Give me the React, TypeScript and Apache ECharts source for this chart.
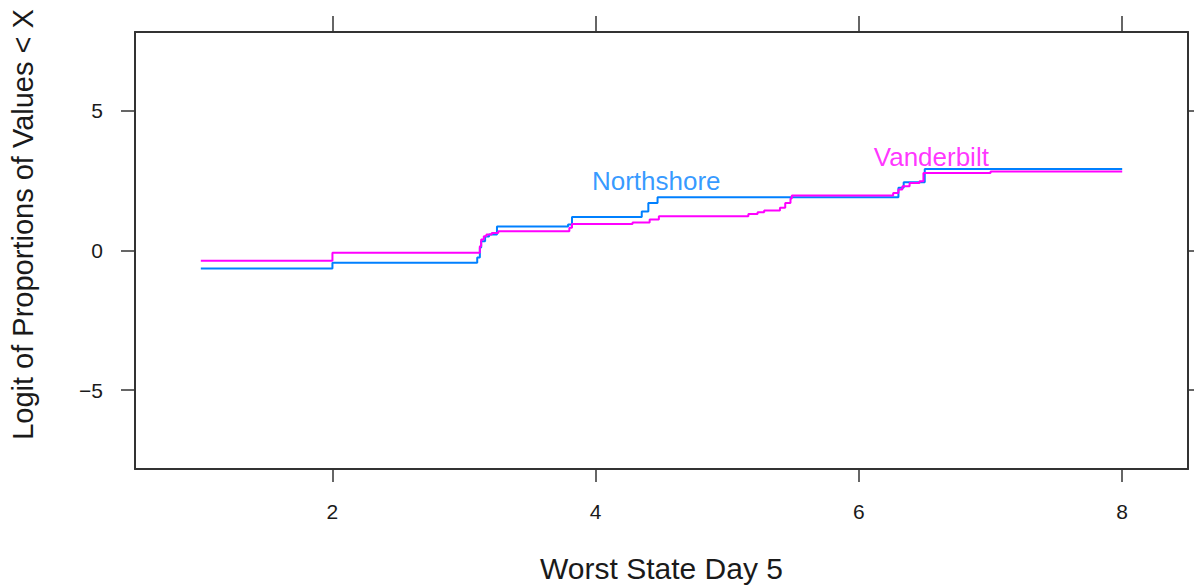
import React, { useEffect, useRef } from "react";
import * as echarts from "echarts";

// Step curves: each y value holds from its x until the next x.
const northshoreX = [1, 2, 3.1, 3.12, 3.13, 3.16, 3.19, 3.25, 3.79, 3.82, 4.35, 4.4, 4.47, 6.3, 6.34, 6.5, 8];
const northshoreY = [-0.64, -0.44, -0.25, 0.11, 0.33, 0.5, 0.57, 0.86, 0.93, 1.2, 1.4, 1.7, 1.91, 2.25, 2.44, 2.92, 2.92];

const vanderbiltX = [1, 2, 3.12, 3.13, 3.15, 3.17, 3.21, 3.26, 3.8, 3.82, 4.28, 4.41, 4.48, 5.16, 5.23, 5.28, 5.4, 5.44, 5.48, 5.49, 6.26, 6.3, 6.33, 6.385, 6.46, 6.49, 7.0, 8];
const vanderbiltY = [-0.37, -0.08, 0.15, 0.39, 0.51, 0.57, 0.63, 0.69, 0.81, 0.95, 1.0, 1.11, 1.23, 1.31, 1.37, 1.43, 1.53, 1.7, 1.86, 1.97, 2.06, 2.18, 2.3, 2.42, 2.48, 2.77, 2.83, 2.83];

const groupNames = ["Northshore", "Vanderbilt"];
const labelX = [4.46, 6.55];
const labelY = [2.5, 3.36];

const xTicks = [2, 4, 6, 8];
const yTicks = [-5, 0, 5];

const BLUE = "#0080ff";
const MAGENTA = "#ff00ff";
const FONT = "'Liberation Sans', Arial, sans-serif";
const FRAME = "#333333";
const TEXT = "#1a1a1a";

const pairs = (xs: number[], ys: number[]) => xs.map((x, i) => [x, ys[i]]);
// Typographic minus for negative tick labels
const tickText = (v: number) => String(v).replace("-", "\u2212");

export default function App() {
  const ref = useRef<HTMLDivElement>(null);

  useEffect(() => {
    if (!ref.current) return;
    const chart = echarts.init(ref.current, undefined, { renderer: "svg" });

    const frameLine = { show: true, onZero: false, lineStyle: { color: FRAME, width: 2 } };
    const tickStyle = { color: FRAME, width: 1.5 };

    chart.setOption({
      animation: false,
      backgroundColor: "#ffffff",
      textStyle: { fontFamily: FONT },
      grid: { left: 130, top: 32, width: 1058, height: 438, containLabel: false },
      xAxis: [
        {
          type: "value",
          min: 0.5,
          max: 8.5,
          position: "bottom",
          name: "Worst State Day 5",
          nameLocation: "middle",
          nameGap: 84,
          nameTextStyle: { fontSize: 30, color: TEXT, fontFamily: FONT },
          axisLine: frameLine,
          axisTick: { show: true, inside: false, length: 13, lineStyle: tickStyle, customValues: xTicks },
          axisLabel: { show: true, fontSize: 21, color: TEXT, margin: 32, fontFamily: FONT, customValues: xTicks, formatter: tickText },
          splitLine: { show: false },
        },
        {
          type: "value",
          min: 0.5,
          max: 8.5,
          position: "top",
          axisLine: frameLine,
          axisTick: { show: true, inside: false, length: 16, lineStyle: tickStyle, customValues: xTicks },
          axisLabel: { show: false },
          splitLine: { show: false },
        },
      ],
      yAxis: [
        {
          type: "value",
          min: -7.82,
          max: 7.82,
          position: "left",
          name: "Logit of Proportions of Values < X",
          nameLocation: "middle",
          nameGap: 98,
          nameRotate: 90,
          nameTextStyle: { fontSize: 29, color: TEXT, fontFamily: FONT, padding: [0, 0, 0, 52] },
          axisLine: frameLine,
          axisTick: { show: true, inside: false, length: 14, lineStyle: tickStyle, customValues: yTicks },
          axisLabel: { show: true, fontSize: 21, color: TEXT, margin: 32, fontFamily: FONT, customValues: yTicks, formatter: tickText },
          splitLine: { show: false },
        },
        {
          type: "value",
          min: -7.82,
          max: 7.82,
          position: "right",
          axisLine: frameLine,
          axisTick: { show: true, inside: false, length: 14, lineStyle: tickStyle, customValues: yTicks },
          axisLabel: { show: false },
          splitLine: { show: false },
        },
      ],
      series: [
        {
          name: groupNames[0],
          type: "line",
          step: "end",
          data: pairs(northshoreX, northshoreY),
          showSymbol: false,
          lineStyle: { color: BLUE, width: 2 },
          itemStyle: { color: BLUE },
          z: 3,
        },
        {
          name: groupNames[1],
          type: "line",
          step: "end",
          data: pairs(vanderbiltX, vanderbiltY),
          showSymbol: false,
          lineStyle: { color: MAGENTA, width: 2 },
          itemStyle: { color: MAGENTA },
          z: 4,
        },
        {
          type: "scatter",
          symbolSize: 0,
          silent: true,
          data: groupNames.map((n, i) => ({
            value: [labelX[i], labelY[i]],
            name: n,
            label: {
              show: true,
              position: "inside",
              formatter: n,
              color: i === 0 ? BLUE : MAGENTA,
              fontSize: 26,
              fontFamily: FONT,
            },
          })),
          z: 5,
        },
      ],
    });

    return () => chart.dispose();
  }, []);

  return (
    <div
      ref={ref}
      style={{ position: "absolute", left: 0, top: 0, width: 1194, height: 588 }}
    />
  );
}
